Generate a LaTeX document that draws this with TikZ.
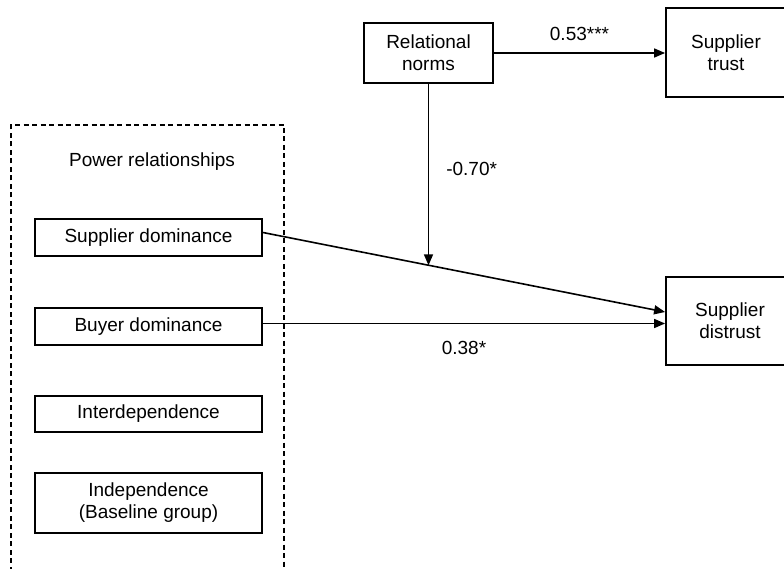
\documentclass[tikz,border=0pt]{standalone}
\usepackage{fontspec}
\setmainfont{Liberation Sans}
\usetikzlibrary{arrows.meta}
\tikzset{
  box/.style={draw,line width=1.8pt,align=center,inner sep=0pt,font=\fontsize{19}{22}\selectfont},
  link/.style={line width=1.6pt,-{Triangle[length=11pt,width=9pt]}},
  coef/.style={inner sep=2pt,font=\fontsize{19}{22}\selectfont},
  frame/.style={line width=1.6pt,dash pattern=on 5pt off 3.5pt}
}
\begin{document}
\begin{tikzpicture}[x=1pt,y=-1pt]
\useasboundingbox (0,0) rectangle (784,569);
\clip (0,0) rectangle (784,569);
% moderator and outcomes
\node[box,minimum width=129pt,minimum height=60pt] (rel) at (428.5,53) {Relational\\norms};
\node[box,minimum width=120pt,minimum height=89pt] (trust) at (726,52.5) {Supplier\\trust};
\node[box,minimum width=128pt,minimum height=88pt] (distrust) at (730,321) {Supplier\\distrust};
% power relationships group
\draw[frame] (11,580) -- (11,125) -- (284,125) -- (284,580);
\node[coef] (powerlbl) at (152,162) {Power relationships};
\node[box,minimum width=227pt,minimum height=37pt] (supdom) at (148.5,237.5) {Supplier dominance};
\node[box,minimum width=227pt,minimum height=37pt] (buydom) at (148.5,326.5) {Buyer dominance};
\node[box,minimum width=227pt,minimum height=36pt] (interdep) at (148.5,414) {Interdependence};
\node[box,minimum width=227pt,minimum height=60pt] (indep) at (148.5,503) {Independence\\(Baseline group)};
% paths
\coordinate (sdout) at ([yshift=5pt]supdom.east);
\coordinate (bdout) at ([yshift=3pt]buydom.east);
\draw[link] (rel.east) -- node[coef,above=10pt]{0.53***} (trust.west |- rel.east);
\draw[link] (sdout) -- coordinate[pos=0.413] (mod) ([yshift=9pt]distrust.west);
\draw[link] (rel.south) -- node[coef,right=15pt,pos=0.47]{-0.70*} (rel.south |- mod);
\draw[link] (bdout) -- node[coef,below=15pt]{0.38*} (distrust.west |- bdout);
\end{tikzpicture}
\end{document}
